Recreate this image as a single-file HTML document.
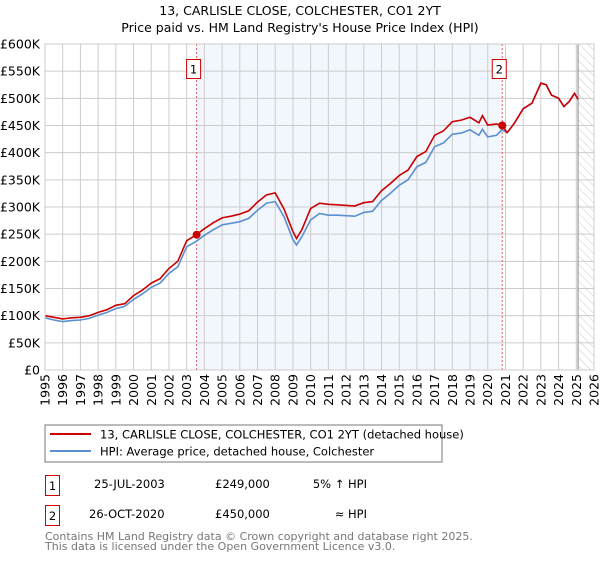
<!DOCTYPE html>
<html><head><meta charset="utf-8"><style>
body{margin:0;background:#fff;font-family:"Liberation Sans","DejaVu Sans",sans-serif;}
svg text{font-family:"DejaVu Sans","Liberation Sans",sans-serif;}
</style></head><body>
<svg id="c" width="600" height="560" xmlns="http://www.w3.org/2000/svg">
<defs><pattern id="hatch" width="6" height="6" patternUnits="userSpaceOnUse" patternTransform="rotate(-45)"><line x1="0" y1="0" x2="0" y2="6" stroke="#ccc" stroke-width="1"/></pattern></defs>
<text x="300" y="15" text-anchor="middle" font-size="12.5">13, CARLISLE CLOSE, COLCHESTER, CO1 2YT</text>
<text x="300" y="32" text-anchor="middle" font-size="12.5">Price paid vs. HM Land Registry's House Price Index (HPI)</text>
<g id="plot"></g>
<rect x="45" y="425" width="397" height="37" fill="#fff" stroke="#777"/>
<line x1="50" y1="434" x2="91" y2="434" stroke="#cc0000" stroke-width="2"/>
<text x="100" y="438.5" font-size="11.5">13, CARLISLE CLOSE, COLCHESTER, CO1 2YT (detached house)</text>
<line x1="50" y1="451" x2="91" y2="451" stroke="#5b8fd0" stroke-width="2"/>
<text x="100" y="455.5" font-size="11.5">HPI: Average price, detached house, Colchester</text>
<rect x="45.5" y="475.5" width="14" height="20" fill="#fff" stroke="#cc0000"/>
<text x="52.5" y="490" text-anchor="middle" font-size="11.5">1</text>
<text x="94" y="488" font-size="11.5">25-JUL-2003</text>
<text x="215" y="488" font-size="11.5">£249,000</text>
<text x="367" y="488" text-anchor="end" font-size="11.5">5% ↑ HPI</text>
<rect x="45.5" y="505.5" width="14" height="20" fill="#fff" stroke="#cc0000"/>
<text x="52.5" y="520" text-anchor="middle" font-size="11.5">2</text>
<text x="89" y="518" font-size="11.5">26-OCT-2020</text>
<text x="215" y="518" font-size="11.5">£450,000</text>
<text x="367" y="518" text-anchor="end" font-size="11.5">≈ HPI</text>
<text x="45" y="540" font-size="11" fill="#777">Contains HM Land Registry data © Crown copyright and database right 2025.</text>
<text x="45" y="550" font-size="11" fill="#777">This data is licensed under the Open Government Licence v3.0.</text>
</svg>
<script>
const hpiYears=[1995,1995.5,1996,1996.5,1997,1997.5,1998,1998.5,1999,1999.5,2000,2000.5,2001,2001.5,2002,2002.5,2003,2003.5,2004,2004.5,2005,2005.5,2006,2006.5,2007,2007.5,2008,2008.5,2009,2009.2,2009.5,2010,2010.5,2011,2011.5,2012,2012.5,2013,2013.5,2014,2014.5,2015,2015.5,2016,2016.5,2017,2017.5,2018,2018.5,2019,2019.5,2019.7,2020,2020.5,2020.8,2021.1,2021.5,2022,2022.5,2023,2023.3,2023.6,2024,2024.3,2024.6,2024.9,2025.1];
const hpiValues=[96,92,89,91,92,95,101,106,113,117,130,140,152,160,178,190,227,236,248,258,267,270,273,279,294,307,310,282,240,230,245,276,288,285,285,284,283,290,292,312,325,340,350,374,382,411,418,434,436,442,432,443,429,432,442,437,454,481,491,528,525,506,500,485,494,509,498];
const propValues=[100,97,94,96,97,100,106,111,119,122,137,147,160,168,187,200,238,248,260,271,280,283,287,293,309,322,326,296,255,242,258,297,307,305,304,303,302,308,310,330,343,358,368,393,402,432,440,457,460,465,455,468,451,453,450,437,454,481,491,528,525,506,500,485,494,509,498];
const saleYears=[2003.56,2020.82];
const salePrices=[249,450];
const saleLabels=["1","2"];
const yTicks=[0,50,100,150,200,250,300,350,400,450,500,550,600];
const yTickLabels=["£0","£50K","£100K","£150K","£200K","£250K","£300K","£350K","£400K","£450K","£500K","£550K","£600K"];
const xTicks=[1995,1996,1997,1998,1999,2000,2001,2002,2003,2004,2005,2006,2007,2008,2009,2010,2011,2012,2013,2014,2015,2016,2017,2018,2019,2020,2021,2022,2023,2024,2025,2026];
const X0=45,X1=594,Y0=370,Y1=44;
const xs=y=>X0+(y-1995)/(2026-1995)*(X1-X0);
const ys=v=>Y0-v/600*(Y0-Y1);
const NS="http://www.w3.org/2000/svg";
const g=document.getElementById('plot');
function mk(t,a,p){const e=document.createElementNS(NS,t);for(const k in a)e.setAttribute(k,a[k]);(p||g).appendChild(e);return e;}
let e;
e=mk('rect',{x:xs(saleYears[0]),y:Y1,width:xs(saleYears[1])-xs(saleYears[0]),height:Y0-Y1,fill:'#eef3fc',opacity:0.75});


e=mk('rect',{x:xs(2025.1),y:Y1,width:X1-xs(2025.1),height:Y0-Y1,fill:'url(#hatch)'});


yTicks.forEach((v,i)=>{
 e=mk('line',{x1:X0,x2:X1,y1:ys(v),y2:ys(v),stroke:'#ccc','stroke-width':1});
 
 
 e=mk('text',{x:40,y:ys(v)+4.5,'text-anchor':'end','font-size':12.5});
 e.textContent=yTickLabels[i];
 
 
});
xTicks.forEach(y=>{
 e=mk('line',{x1:xs(y),x2:xs(y),y1:Y1,y2:Y0,stroke:'#ccc','stroke-width':1});
 
 
 e=mk('text',{x:0,y:0,'text-anchor':'end','font-size':12.5,transform:`translate(${xs(y)+4.5},374) rotate(-90)`});
 e.textContent=y;
 
 
});
e=mk('line',{x1:xs(2025.1),x2:xs(2025.1),y1:Y1,y2:Y0,stroke:'#999','stroke-width':1.2});


saleYears.forEach((y,i)=>{
 e=mk('line',{x1:xs(y),x2:xs(y),y1:Y1,y2:Y0,stroke:'#e06060','stroke-width':1,'stroke-dasharray':'2,2'});
 
 
 e=mk('rect',{x:xs(y)-10,y:59.5,width:14,height:19,fill:'#fff',stroke:'#cc0000'});
 
 
 e=mk('text',{x:xs(y)-3,y:73.5,'text-anchor':'middle','font-size':11.5});
 e.textContent=saleLabels[i];
 
 
});
const path=vals=>hpiYears.map((y,i)=>(i?'L':'M')+xs(y).toFixed(1)+','+ys(vals[i]).toFixed(1)).join('');
e=mk('path',{d:path(hpiValues),fill:'none',stroke:'#5b8fd0','stroke-width':1.6});


e=mk('path',{d:path(propValues),fill:'none',stroke:'#cc0000','stroke-width':1.6});


saleYears.forEach((y,i)=>{
 e=mk('circle',{cx:xs(y),cy:ys(salePrices[i]),r:4,fill:'#cc0000'});
 
 
});
e=mk('rect',{x:X0,y:Y1,width:X1-X0,height:Y0-Y1,fill:'none',stroke:'#ccc'});


</script>
</body></html>
